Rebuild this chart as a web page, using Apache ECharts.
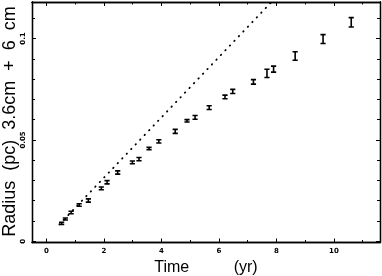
<!DOCTYPE html>
<html>
<head>
<meta charset="utf-8">
<script src="https://cdn.jsdelivr.net/npm/echarts@6/dist/echarts.min.js"></script>
<style>
html,body{margin:0;padding:0;background:#fff;}
#c{width:382px;height:276px;}
</style>
</head>
<body>
<div id="c"></div>
<script>
// Measured radius vs time (error-bar points)
var timeYr = [0.53, 0.66, 0.86, 1.14, 1.46, 1.91, 2.11, 2.48, 2.99, 3.22, 3.57, 3.91, 4.48, 4.89, 5.17, 5.66, 6.21, 6.48, 7.20, 7.67, 7.90, 8.65, 9.62, 10.60];
var radiusPc = [0.0088, 0.0110, 0.0142, 0.0179, 0.0201, 0.0261, 0.0291, 0.0339, 0.0389, 0.0405, 0.0458, 0.0493, 0.0542, 0.0594, 0.0611, 0.0659, 0.0712, 0.0739, 0.0786, 0.0828, 0.0849, 0.0914, 0.0997, 0.1080];
var radiusErr = [0.0005, 0.0005, 0.0006, 0.0006, 0.0008, 0.0007, 0.0008, 0.0008, 0.0007, 0.0008, 0.0006, 0.0008, 0.0010, 0.0006, 0.0009, 0.0009, 0.0009, 0.0010, 0.0011, 0.0020, 0.0015, 0.0021, 0.0022, 0.0023];
// Dotted reference line (endpoints)
var lineTime = [0.45, 7.9];
var lineRadius = [0.0083, 0.1191];
// Tick labels
var xMajorTicks = [0, 2, 4, 6, 8, 10];
var xMinorTicks = [1, 3, 5, 7, 9, 11];
var yMajorTicks = [0, 0.05, 0.1];
var yMinorTicks = [0.01, 0.02, 0.03, 0.04, 0.06, 0.07, 0.08, 0.09, 0.11];
var yTitle = 'Radius  (pc)  3.6cm  +  6  cm';
var xTitle = 'Time          (yr)';

var X_MIN = -0.5, X_MAX = 11.6, Y_MIN = -0.0006, Y_MAX = 0.118;
var axisLineStyle = {color: '#000', width: 1.3};
var tickFont = {fontSize: 7, fontWeight: 'bold', color: '#000', fontFamily: 'DejaVu Sans'};

function xAx(pos, ticks, len, labels, extra) {
  var a = {
    type: 'value', position: pos, min: X_MIN, max: X_MAX,
    axisLine: {show: true, onZero: false, lineStyle: axisLineStyle},
    axisTick: {show: true, inside: true, length: len, customValues: ticks, lineStyle: {color: '#000', width: 1}},
    axisLabel: labels ? Object.assign({show: true, customValues: ticks, margin: 5}, tickFont) : {show: false},
    splitLine: {show: false}
  };
  return Object.assign(a, extra || {});
}
function yAx(pos, ticks, len, labels, extra) {
  var a = {
    type: 'value', position: pos, min: Y_MIN, max: Y_MAX,
    axisLine: {show: true, onZero: false, lineStyle: axisLineStyle},
    axisTick: {show: true, inside: true, length: len, customValues: ticks, lineStyle: {color: '#000', width: 1}},
    axisLabel: labels ? Object.assign({show: true, customValues: ticks, margin: 5, rotate: 90, formatter: function (v) { return String(+v.toFixed(3)); }}, tickFont) : {show: false},
    splitLine: {show: false}
  };
  return Object.assign(a, extra || {});
}

var errData = timeYr.map(function (t, i) { return [t, radiusPc[i], radiusErr[i]]; });
var lineData = lineTime.map(function (t, i) { return [t, lineRadius[i]]; });

var chart = echarts.init(document.getElementById('c'), null, {renderer: 'canvas'});
chart.setOption({
  animation: false,
  backgroundColor: '#fff',
  grid: {left: 32, right: 2, top: 2, bottom: 33.5, containLabel: false, outerBoundsMode: 'none'},
  graphic: [
    {
      type: 'text', x: 10, y: 121.5, rotation: Math.PI / 2, silent: true,
      style: {text: yTitle, fontSize: 18, fontFamily: 'Liberation Sans', fill: '#000', align: 'center', verticalAlign: 'middle'}
    }
  ],
  xAxis: [
    xAx('bottom', xMajorTicks, 4, true, {
      name: xTitle, nameLocation: 'middle', nameGap: 13,
      nameTextStyle: {fontSize: 16, color: '#000', fontFamily: 'Liberation Sans', verticalAlign: 'top'}
    }),
    xAx('bottom', xMinorTicks, 2.5, false),
    xAx('top', xMajorTicks, 4, false),
    xAx('top', xMinorTicks, 2.5, false)
  ],
  yAxis: [
    yAx('left', yMajorTicks, 4, true),
    yAx('left', yMinorTicks, 3, false),
    yAx('right', yMajorTicks, 4, false),
    yAx('right', yMinorTicks, 3, false)
  ],
  series: [
    {
      type: 'line', xAxisIndex: 0, yAxisIndex: 0, data: lineData, symbol: 'none', clip: true,
      lineStyle: {color: '#000', width: 1.8, type: [0.5, 6], cap: 'round'}
    },
    {
      type: 'custom', xAxisIndex: 0, yAxisIndex: 0, data: errData, clip: true,
      renderItem: function (params, api) {
        var x = api.value(0), y = api.value(1), e = api.value(2);
        var top = api.coord([x, y + e]);
        var bot = api.coord([x, y - e]);
        var hw = 2.6;
        var st = {stroke: '#000', lineWidth: 1.6, fill: null};
        return {
          type: 'group',
          children: [
            {type: 'line', shape: {x1: top[0], y1: top[1], x2: bot[0], y2: bot[1]}, style: st},
            {type: 'line', shape: {x1: top[0] - hw, y1: top[1], x2: top[0] + hw, y2: top[1]}, style: st},
            {type: 'line', shape: {x1: bot[0] - hw, y1: bot[1], x2: bot[0] + hw, y2: bot[1]}, style: st}
          ]
        };
      }
    }
  ]
});
</script>
</body>
</html>
